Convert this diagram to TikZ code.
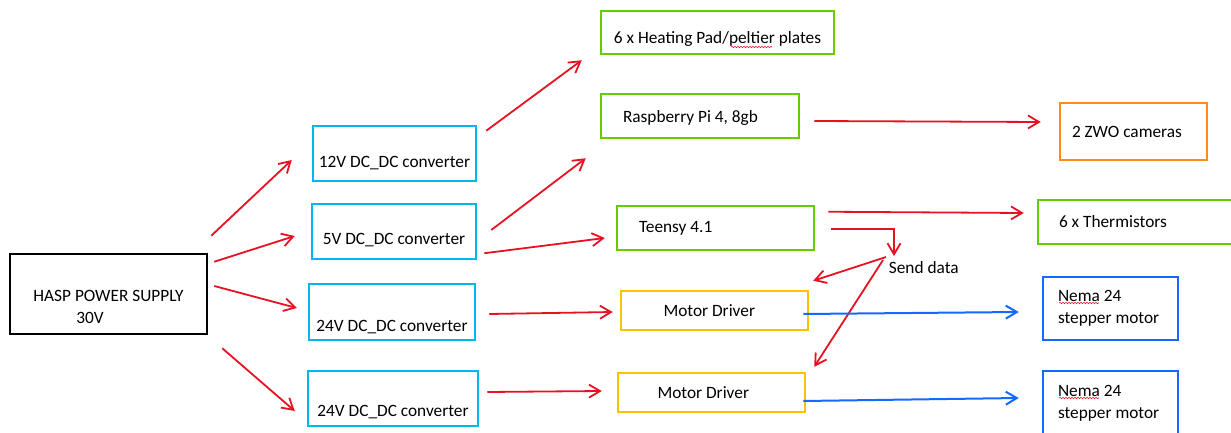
\documentclass[tikz,border=0pt]{standalone}
\usepackage{fontspec}
\setmainfont{Carlito}
\usetikzlibrary{arrows.meta,decorations.pathmorphing}

\definecolor{convblue}{RGB}{0,183,240}
\definecolor{ctrlgreen}{RGB}{102,204,0}
\definecolor{camorange}{RGB}{255,140,26}
\definecolor{drvgold}{RGB}{255,192,0}
\definecolor{motorblue}{RGB}{20,105,255}
\definecolor{powred}{RGB}{232,17,35}

\begin{document}
\begin{tikzpicture}[
    x=1pt, y=-1pt,
    font=\fontsize{17.3}{22}\selectfont,
    >={Straight Barb[length=11pt,width=13pt]},
    line width=1.8pt,
    base/.style={draw, line width=2.5pt, align=flush left},
    supply/.style={base, draw=black},
    conv/.style={base, draw=convblue, align=center},
    ctrl/.style={base, draw=ctrlgreen},
    camera/.style={base, draw=camorange},
    driver/.style={base, draw=drvgold},
    motor/.style={base, draw=motorblue},
    sink/.style={text height=#1, text depth=0pt},
    power/.style={->, draw=powred},
    signal/.style={->, draw=motorblue, line width=2pt},
    squiggle/.style={draw=powred, line width=0.6pt, decorate, decoration={snake, amplitude=0.7pt, segment length=3pt}}
]
\useasboundingbox[fill=white] (0,0) rectangle (1231,433);

\node[supply, minimum width=197pt, minimum height=80pt, sink=59pt] (hasp) at (108.5,294) {HASP POWER SUPPLY\\\hspace*{43pt}30V};

\node[conv, minimum width=163pt, minimum height=55pt, sink=27pt] (conv12) at (394.5,153.5) {12V DC\_DC converter};
\node[conv, minimum width=164pt, minimum height=55pt, sink=25pt] (conv5) at (394,231.5) {5V DC\_DC converter};
\node[conv, minimum width=166pt, minimum height=56pt, sink=38pt] (conv24a) at (392,312) {24V DC\_DC converter};
\node[conv, minimum width=170pt, minimum height=55pt, sink=36pt] (conv24b) at (393,398.5) {24V DC\_DC converter};

\node[ctrl, align=center, minimum width=233pt, minimum height=43pt, sink=23pt] (heat) at (717.5,32.5) {6 x Heating Pad/peltier plates};
\node[ctrl, text width=154pt, inner xsep=22pt, minimum height=44pt, sink=13pt] (rpi) at (700,116) {Raspberry Pi 4, 8gb};
\node[ctrl, text width=153pt, inner xsep=22pt, minimum height=44pt] (teensy) at (715.5,228) {Teensy 4.1};
\node[driver, text width=102pt, inner xsep=42.5pt, minimum height=39pt] (drv1) at (714.5,310.5) {Motor Driver};
\node[driver, text width=108pt, inner xsep=39.5pt, minimum height=39pt] (drv2) at (711.5,392.5) {Motor Driver};

\node[camera, text width=123pt, inner xsep=12pt, minimum height=57pt] (zwo) at (1133.5,131.5) {2 ZWO cameras};
\node[ctrl, text width=155pt, inner xsep=21pt, minimum height=44pt] (therm) at (1136.5,222) {6 x Thermistors};
\node[motor, text width=105pt, inner xsep=15pt, minimum height=63pt] (nema1) at (1110.5,308.5) {Nema 24\\stepper motor};
\node[motor, text width=105pt, inner xsep=15pt, minimum height=64pt] (nema2) at (1110.5,403) {Nema 24\\stepper motor};

\node[anchor=west, inner sep=0pt] (send) at (888,268) {Send data};

\draw[power] ([shift={(3,-17)}]hasp.north east) -- ([shift={(-20,6.5)}]conv12.west);
\draw[power] ([shift={(6,9)}]hasp.north east) -- ([shift={(-16,4.5)}]conv5.west);
\draw[power] ([shift={(6,-8)}]hasp.east) -- ([shift={(-11,-4)}]conv24a.west);
\draw[power] ([shift={(14,13)}]hasp.south east) -- ([shift={(-12,12.5)}]conv24b.west);

\draw[power] ([shift={(9,6)}]conv12.north east) -- ([shift={(-18,5)}]heat.south west);
\draw[power] ([shift={(14,-1.5)}]conv5.east) -- ([shift={(-14,19)}]rpi.south west);
\draw[power] ([shift={(7,-7)}]conv5.south east) -- ([shift={(-11,10)}]teensy.west);
\draw[power] ([shift={(13,2)}]conv24a.east) -- ([shift={(-7,1.5)}]drv1.west);
\draw[power] ([shift={(8,-6.5)}]conv24b.east) -- ([shift={(-15,-1.5)}]drv2.west);

\draw[power] ([shift={(14,5)}]rpi.east) -- ([shift={(-18,-9.5)}]zwo.west);
\draw[power] ([shift={(13,7)}]teensy.north east) -- ([shift={(-13,-9)}]therm.west);
\draw[power] ([shift={(16,1)}]teensy.east) -| ([shift={(6,-5)}]send.north west);
\draw[power] ([shift={(-2,-4)}]send.north west) -- ([shift={(4,-9)}]drv1.north east);
\draw[power] ([shift={(-5,-1)}]send.north west) -- ([shift={(8,-5)}]drv2.north east);

\draw[signal] ([shift={(-6,3.5)}]drv1.east) -- ([shift={(-23,3.5)}]nema1.west);
\draw[signal] ([shift={(-3,8.5)}]drv2.east) -- ([shift={(-23,-5)}]nema2.west);

\draw[squiggle] (731,47) -- (772,47);
\draw[squiggle] (1059,303) -- (1099,303);
\draw[squiggle] (1059,398) -- (1099,398);
\end{tikzpicture}
\end{document}
